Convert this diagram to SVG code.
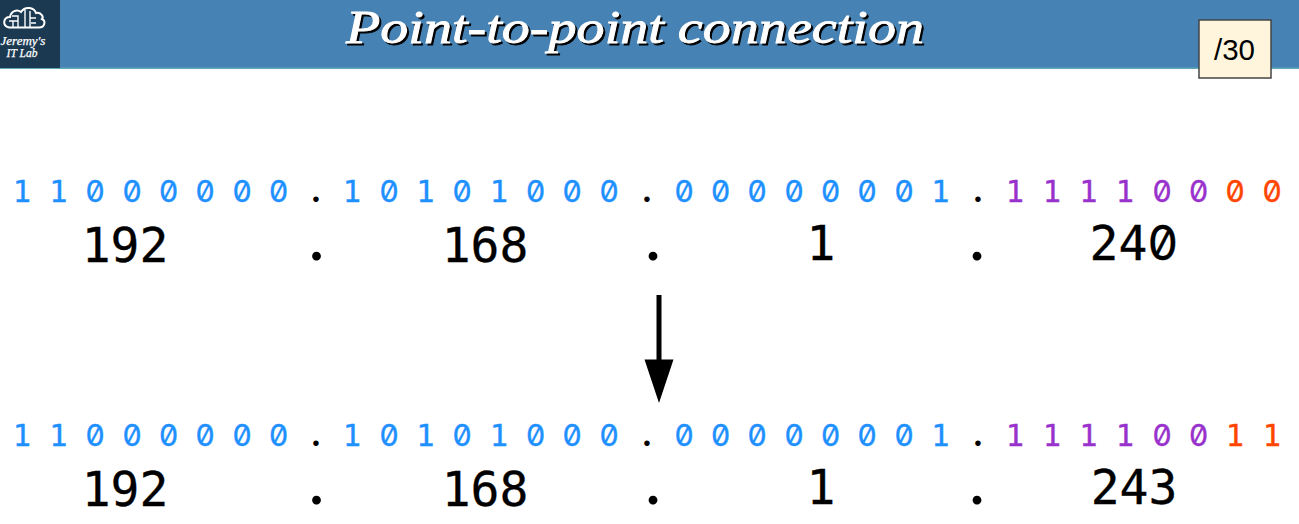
<svg xmlns="http://www.w3.org/2000/svg" width="1299" height="524" viewBox="0 0 1299 524">
<style>
.b{font:30.4px "DejaVu Sans Mono",monospace;text-anchor:middle;stroke-width:.35}
.n{font:48px "DejaVu Sans Mono",monospace;fill:#000;stroke:#000;stroke-width:.3;text-anchor:middle}
.z{font-family:Inter,"DejaVu Sans Mono",monospace;font-variant-numeric:slashed-zero tabular-nums;font-feature-settings:"zero" 1,"tnum" 1}
.blue{fill:#1e90ff;stroke:#1e90ff}.pur{fill:#9932cc;stroke:#9932cc}.org{fill:#ff4500;stroke:#ff4500}
.dot{fill:#000;font-family:Lato,"DejaVu Sans",sans-serif;text-anchor:middle}
.s{font-size:44px}.d{font-size:70px}
.t{font:italic 47px "Liberation Serif","DejaVu Serif",serif;stroke-width:.9}
.l{font:italic 13px "Liberation Serif","DejaVu Serif",serif;fill:#fff;text-anchor:middle;stroke:#fff;stroke-width:.25}
.c{fill:none;stroke:#fff;stroke-width:1.400}
</style>
<g id="header">
<rect width="1299" height="68" fill="#4682b4"/>
<rect y="67.500" width="1299" height="1.500" fill="#5fa8b8"/>
</g>
<g id="logo">
<rect width="60" height="68" fill="#1b3a52"/>
<path class="c" style="stroke-width:2" d="M9 27.500C2 26 3 17 10 17C11 11 17 9 21 12C25 6 34 7 36 13C41 12 44 17 42 19C46 21 45 27.500 39 27.500Z"/>
<path class="c" d="M13 27V21M9 21H18M18 27V16H12M25 27V10M30 27V11M30 18H36M36 23H31"/>
<text class="l" x="23" y="45">Jeremy's</text>
<text class="l" x="22" y="57" style="font-size:11.500px">IT Lab</text>
</g>
<g id="title">
<text class="t" x="348" y="45" fill="#000" stroke="#000" textLength="578" lengthAdjust="spacingAndGlyphs">Point-to-point connection</text>
<text class="t" x="346" y="43" fill="#fff" stroke="#fff" textLength="578" lengthAdjust="spacingAndGlyphs">Point-to-point connection</text>
</g>
<g id="mask-badge">
<rect x="1199" y="20" width="72" height="58" fill="#fff5dc" stroke="#444" stroke-width="1.500"/>
<text x="1234.500" y="60" font-family="Liberation Sans, Arial, sans-serif" font-size="29.500" text-anchor="middle" fill="#000">/30</text>
</g>
<g id="binary-top">
<text class="b blue" y="202" x="22 58.500 95 132 168.500 205 242 278.500">11<tspan class="z">000000</tspan></text>
<text class="dot s" y="202" x="316">.</text>
<text class="b blue" y="202" x="352 389 425.500 462 499 535.500 572 609">1<tspan class="z">0</tspan>1<tspan class="z">0</tspan>1<tspan class="z">000</tspan></text>
<text class="dot s" y="202" x="647">.</text>
<text class="b blue" y="202" x="684 720.500 757 794 830.500 867 904 940.500"><tspan class="z">0000000</tspan>1</text>
<text class="dot s" y="202" x="978">.</text>
<text class="b pur" y="202" x="1015 1052 1088.500 1125 1162 1198.500">1111<tspan class="z">00</tspan></text>
<text class="b org z" y="202" x="1235 1272">00</text>
</g>
<g id="decimal-top">
<text class="n" x="125" y="262">192</text>
<text class="dot d" x="316.500" y="259.500">.</text>
<text class="n" x="485" y="262">168</text>
<text class="dot d" x="653" y="259.500">.</text>
<text class="n" x="821" y="260">1</text>
<text class="dot d" x="977" y="259.500">.</text>
<text class="n" x="1134" y="260">24<tspan class="z">0</tspan></text>
</g>
<g id="connectors">
<path d="M659 295V362" stroke="#000" stroke-width="5" fill="none"/>
<path d="M644.500 359.500H673.500L659 403Z" fill="#000"/>
</g>
<g id="binary-bottom">
<text class="b blue" y="446" x="22 58.500 95 132 168.500 205 242 278.500">11<tspan class="z">000000</tspan></text>
<text class="dot s" y="446" x="316">.</text>
<text class="b blue" y="446" x="352 389 425.500 462 499 535.500 572 609">1<tspan class="z">0</tspan>1<tspan class="z">0</tspan>1<tspan class="z">000</tspan></text>
<text class="dot s" y="446" x="647">.</text>
<text class="b blue" y="446" x="684 720.500 757 794 830.500 867 904 940.500"><tspan class="z">0000000</tspan>1</text>
<text class="dot s" y="446" x="978">.</text>
<text class="b pur" y="446" x="1015 1052 1088.500 1125 1162 1198.500">1111<tspan class="z">00</tspan></text>
<text class="b org" y="446" x="1235 1272">11</text>
</g>
<g id="decimal-bottom">
<text class="n" x="125" y="506">192</text>
<text class="dot d" x="316.500" y="503.500">.</text>
<text class="n" x="485" y="506">168</text>
<text class="dot d" x="653" y="503.500">.</text>
<text class="n" x="821" y="504">1</text>
<text class="dot d" x="977" y="503.500">.</text>
<text class="n" x="1134" y="504">243</text>
</g>
</svg>
